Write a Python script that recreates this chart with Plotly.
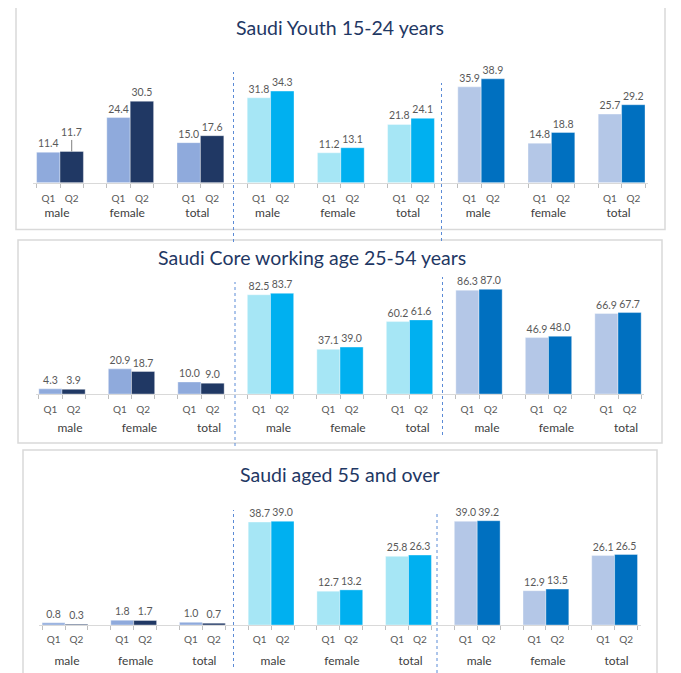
import plotly.graph_objects as go

# ---------------- data ----------------
categories = ["male", "female", "total"]
quarters = ["Q1", "Q2"]
sections = ["A", "B", "C"]  # three indicator blocks per panel (unlabelled in the source)

panel_titles = [
    "Saudi Youth 15-24 years",
    "Saudi Core working age 25-54 years",
    "Saudi aged 55 and over",
]

youth_q1 = [11.4, 24.4, 15.0, 31.8, 11.2, 21.8, 35.9, 14.8, 25.7]
youth_q2 = [11.7, 30.5, 17.6, 34.3, 13.1, 24.1, 38.9, 18.8, 29.2]
core_q1 = [4.3, 20.9, 10.0, 82.5, 37.1, 60.2, 86.3, 46.9, 66.9]
core_q2 = [3.9, 18.7, 9.0, 83.7, 39.0, 61.6, 87.0, 48.0, 67.7]
old_q1 = [0.8, 1.8, 1.0, 38.7, 12.7, 25.8, 39.0, 12.9, 26.1]
old_q2 = [0.3, 1.7, 0.7, 39.0, 13.2, 26.3, 39.2, 13.5, 26.5]

# ---------------- styles / geometry ----------------
q1_colors = ["#8FAADC", "#A6E6F5", "#B4C7E7"]
q2_colors = ["#203864", "#00B0F0", "#0070C0"]
WIN_W, WIN_H = 681, 673
OX, OY = 8, 8                      # page body margin
W, H = WIN_W - OX, WIN_H - OY      # figure size
FONT = "Lato"


def px(xpix):
    return (xpix - OX) / W


def py(ypix):
    return 1 - (ypix - OY) / H


# all positions below are in window pixels
geom = [
    dict(base=182.7, ppu=2.67, ymax=45, c0=60.0, step=70.2, title=(340, 27),
         box=(16, 5, 665, 229.5), dashes=[(233.5, 72, 242), (441.5, 83, 241)],
         qstand=8, cstand=19, cshift=-3),
    dict(base=394.0, ppu=1.203, ymax=100, c0=62.0, step=69.5, title=(312, 257),
         box=(18, 240, 662, 443), dashes=[(235, 282, 446), (442.5, 277, 435)],
         qstand=8, cstand=22, cshift=8),
    dict(base=625.0, ppu=2.66, ymax=45, c0=65.0, step=68.7, title=(340, 474),
         box=(23, 450, 657, 680), dashes=[(233.5, 510, 667), (437, 513, 673)],
         qstand=7, cstand=24, cshift=2),
]
# labels lifted with a leader line: (panel, index in series) -> pixels
raised_q2 = {(0, 0): 19}

series = [(youth_q1, youth_q2), (core_q1, core_q2), (old_q1, old_q2)]
ids = [f"{s}-{c}" for s in sections for c in categories]
names = [c for s in sections for c in categories]
ncat = len(ids)
lo, hi = -0.38, ncat - 1 + 0.38

fig = go.Figure()
layout = {}
annotations = []
shapes = []
label_font = dict(family=FONT, size=10.5, color="#595959")

for p, (q1, q2) in enumerate(series):
    g = geom[p]
    n = p + 1
    xa = "x" if n == 1 else f"x{n}"
    ya = "y" if n == 1 else f"y{n}"
    xo = f"x{n + 3}"
    c1 = [q1_colors[i // len(categories)] for i in range(ncat)]
    c2 = [q2_colors[i // len(categories)] for i in range(ncat)]
    t1 = [f"{v:.1f}" for v in q1]
    t2 = ["" if (p, i) in raised_q2 else f"{v:.1f}" for i, v in enumerate(q2)]
    for qname, vals, cols, txt in (("Q1", q1, c1, t1), ("Q2", q2, c2, t2)):
        fig.add_bar(
            x=ids, y=vals, name=qname,
            marker=dict(color=cols, line=dict(width=0.6, color="rgba(255,255,255,0.6)")),
            text=txt, textposition="outside", cliponaxis=False, constraintext="none",
            textfont=label_font,
            xaxis=xa, yaxis=ya, showlegend=False, hoverinfo="skip",
        )
    # invisible helper so the overlaid quarter-label axis is drawn
    fig.add_scatter(x=list(range(ncat)), y=q1, mode="markers",
                    marker=dict(opacity=0, size=1), xaxis=xo, yaxis=ya,
                    showlegend=False, hoverinfo="skip")
    for (pp, i), lift in raised_q2.items():
        if pp == p:
            annotations.append(dict(
                x=i + 1 / 6, y=q2[i], xref=xo, yref=ya, text=f"{q2[i]:.1f}",
                showarrow=True, ax=0, ay=-lift, arrowhead=0, arrowwidth=1,
                arrowcolor="#7F7F7F", standoff=0, font=label_font,
            ))

    left = px(g["c0"] + lo * g["step"])
    right = px(g["c0"] + hi * g["step"])
    ybot = py(g["base"])
    ytop = py(g["base"] - g["ymax"] * g["ppu"])
    xkey = "xaxis" if n == 1 else f"xaxis{n}"
    ykey = "yaxis" if n == 1 else f"yaxis{n}"
    layout[xkey] = dict(
        domain=[left, right], anchor=ya, type="category", range=[lo, hi],
        tickmode="array", tickvals=ids, ticktext=names, ticks="",
        ticklabelstandoff=g["cstand"], ticklabelshift=g["cshift"],
        tickfont=dict(family=FONT, size=12, color="#404040"),
        showline=True, linecolor="#D9D9D9", linewidth=1.2, showgrid=False,
        zeroline=False, fixedrange=True,
    )
    qvals, qtext = [], []
    for i in range(ncat):
        for k, q in enumerate(quarters):
            qvals.append(i + (k - 0.5) / 3)
            qtext.append(q)
    layout[f"xaxis{n + 3}"] = dict(
        overlaying=xa, anchor=ya, type="linear", range=[lo, hi], side="bottom",
        tickmode="array", tickvals=qvals, ticktext=qtext, ticks="",
        ticklabelstandoff=g["qstand"],
        tickfont=dict(family=FONT, size=10, color="#595959"),
        minor=dict(tickmode="linear", tick0=-1 / 3, dtick=1 / 3, ticks="outside",
                   ticklen=4, tickcolor="#BFBFBF", tickwidth=1, showgrid=False),
        showline=False, showgrid=False, zeroline=False, fixedrange=True,
    )
    layout[ykey] = dict(domain=[ybot, ytop], range=[0, g["ymax"]], visible=False,
                        fixedrange=True)

    tx, ty = g["title"]
    annotations.append(dict(
        x=px(tx), y=py(ty), xref="paper", yref="paper", text=panel_titles[p],
        showarrow=False, xanchor="center", yanchor="middle",
        font=dict(family=FONT, size=19.5, color="#1F3864"),
    ))
    bx0, by0, bx1, by1 = g["box"]
    shapes.append(dict(type="rect", xref="paper", yref="paper",
                       x0=px(bx0), x1=px(bx1), y0=py(by1), y1=py(by0),
                       line=dict(color="#D9D9D9", width=1.5), fillcolor="rgba(0,0,0,0)",
                       layer="below"))
    for (dx, dy0, dy1) in g["dashes"]:
        shapes.append(dict(type="line", xref="paper", yref="paper",
                           x0=px(dx), x1=px(dx), y0=py(dy1), y1=py(dy0),
                           line=dict(color="#5B8BD6", width=1, dash="dot")))

fig.update_layout(
    width=W, height=H, margin=dict(l=0, r=0, t=0, b=0),
    paper_bgcolor="white", plot_bgcolor="rgba(0,0,0,0)",
    barmode="group", bargap=1 / 3, bargroupgap=0,
    showlegend=False, annotations=annotations, shapes=shapes,
    font=dict(family=FONT), **layout,
)

fig.write_html("out.html")
